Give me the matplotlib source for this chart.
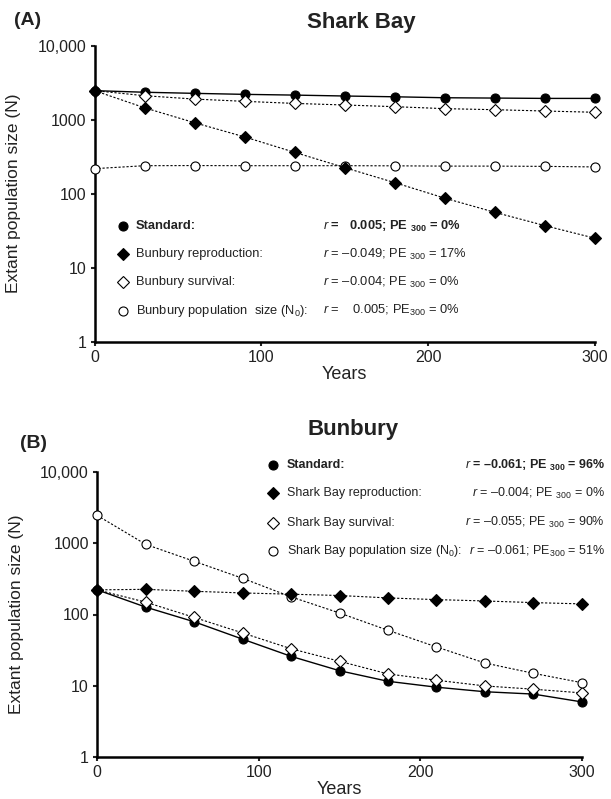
import matplotlib
matplotlib.use("Agg")
import matplotlib.pyplot as plt
from matplotlib.ticker import FixedLocator, FixedFormatter

plt.rcParams['font.family'] = ['Liberation Sans', 'DejaVu Sans']
plt.rcParams['mathtext.fontset'] = 'custom'
plt.rcParams['mathtext.rm'] = 'Liberation Sans'
plt.rcParams['mathtext.it'] = 'Liberation Sans:italic'
plt.rcParams['mathtext.bf'] = 'Liberation Sans:bold'

years = [0, 30, 60, 90, 120, 150, 180, 210, 240, 270, 300]

# panel A - Shark Bay
sb_standard = [2470, 2350, 2270, 2200, 2150, 2090, 2040, 1980, 1960, 1940, 1940]
sb_bun_repro = [2470, 1450, 910, 585, 362, 225, 141, 87, 56, 37, 25]
sb_bun_surv = [2470, 2110, 1900, 1770, 1660, 1580, 1500, 1410, 1365, 1310, 1260]
sb_bun_n0 = [218, 239, 240, 239, 239, 239, 238, 236, 236, 234, 230]

# panel B - Bunbury
bb_standard = [222, 127, 79, 45, 25.8, 16.2, 11.5, 9.5, 8.2, 7.6, 5.9]
bb_sb_repro = [222, 226, 212, 201, 193, 185, 171, 162, 155, 147, 141]
bb_sb_surv = [222, 149, 91, 55, 33, 22, 14.6, 11.9, 9.9, 8.9, 7.9]
bb_sb_n0 = [2470, 968, 560, 323, 177, 105, 60, 35, 20.8, 14.9, 11]

y_ticks = [1, 10, 100, 1000, 10000]
y_labels = ["1", "10", "100", "1000", "10,000"]
x_ticks = [0, 100, 200, 300]

legend_a = [
    ("o", "k", "Standard:", "$r$ =   0.005; PE $_{\\mathbf{300}}$ = 0%", "bold"),
    ("D", "k", "Bunbury reproduction:", "$r$ = \u20130.049; PE $_{300}$ = 17%", "normal"),
    ("D", "w", "Bunbury survival:", "$r$ = \u20130.004; PE $_{300}$ = 0%", "normal"),
    ("o", "w", "Bunbury population  size (N$_0$):", "$r$ =    0.005; PE$_{300}$ = 0%", "normal"),
]
legend_b = [
    ("o", "k", "Standard:", "$r$ = \u20130.061; PE $_{\\mathbf{300}}$ = 96%", "bold"),
    ("D", "k", "Shark Bay reproduction:", "$r$ = \u20130.004; PE $_{300}$ = 0%", "normal"),
    ("D", "w", "Shark Bay survival:", "$r$ = \u20130.055; PE $_{300}$ = 90%", "normal"),
    ("o", "w", "Shark Bay population size (N$_0$):", "$r$ = \u20130.061; PE$_{300}$ = 51%", "normal"),
]


def draw_series(ax, y, marker, face, solid=False):
    ls = "-" if solid else (0, (2, 1.6))
    lw = 1.0 if solid else 0.8
    ax.plot(years, y, color="k", ls=ls, lw=lw, marker=marker,
            markerfacecolor=face, markeredgecolor="k", markeredgewidth=0.8,
            ms=6.5 if marker == "o" else 6, clip_on=False, zorder=3)


def style_axes(ax):
    ax.set_yscale("log")
    ax.set_xlim(0, 300)
    ax.set_ylim(1, 10000)
    ax.yaxis.set_major_locator(FixedLocator(y_ticks))
    ax.yaxis.set_major_formatter(FixedFormatter(y_labels))
    ax.yaxis.set_minor_locator(FixedLocator([]))
    ax.set_xticks(x_ticks)
    for s in ["top", "right"]:
        ax.spines[s].set_visible(False)
    for s in ["left", "bottom"]:
        ax.spines[s].set_linewidth(1.8)
    ax.tick_params(direction="out", length=3, width=1.5, labelsize=11.5,
                   pad=3, colors="#222222")
    ax.set_xlabel("Years", fontsize=13, labelpad=1, color="#222222")
    ax.set_ylabel("Extant population size (N)", fontsize=12.5, labelpad=12,
                  color="#222222")


def draw_legend(ax, rows, mx, tx, rx, ys, size, stat_ha="left"):
    for (m, face, label, stat, weight), yy in zip(rows, ys):
        ax.plot([mx], [yy], marker=m, color="k", markerfacecolor=face,
                markeredgewidth=0.8, ms=6.5 if m == "o" else 6,
                transform=ax.transAxes, clip_on=False)
        ax.text(tx, yy, label, transform=ax.transAxes, fontsize=size,
                fontweight=weight, va="center", ha="left", color="#222222")
        ax.text(rx, yy, stat, transform=ax.transAxes, fontsize=size,
                fontweight=weight, va="center", ha=stat_ha, color="#222222")


fig = plt.figure(figsize=(6.11, 7.99), dpi=100)
W, H = 611, 799
ax_a = fig.add_axes([94.5 / W, 1 - 341.7 / H, (595 - 94.5) / W, (341.7 - 45.7) / H])
ax_b = fig.add_axes([97.3 / W, 1 - 756.7 / H, (581.7 - 97.3) / W, (756.7 - 472.3) / H])

draw_series(ax_a, sb_standard, "o", "k", solid=True)
draw_series(ax_a, sb_bun_surv, "D", "w")
draw_series(ax_a, sb_bun_n0, "o", "w")
draw_series(ax_a, sb_bun_repro, "D", "k")
style_axes(ax_a)
draw_legend(ax_a, legend_a, 0.057, 0.083, 0.456, [0.391, 0.295, 0.201, 0.105], 9.3)
ax_a.text(0.534, 1.078, "Shark Bay", transform=ax_a.transAxes, fontsize=16,
          fontweight="bold", ha="center", va="center", color="#222222")
ax_a.text(-0.16, 1.085, "(A)", transform=ax_a.transAxes, fontsize=14,
          fontweight="bold", ha="left", va="center", color="#222222")

draw_series(ax_b, bb_standard, "o", "k", solid=True)
draw_series(ax_b, bb_sb_surv, "D", "w")
draw_series(ax_b, bb_sb_n0, "o", "w")
draw_series(ax_b, bb_sb_repro, "D", "k")
style_axes(ax_b)
draw_legend(ax_b, legend_b, 0.362, 0.391, (605 - 97.3) / 484.4,
            [1.024, 0.927, 0.823, 0.723], 9.0, stat_ha="right")
ax_b.text(0.527, 1.149, "Bunbury", transform=ax_b.transAxes, fontsize=16,
          fontweight="bold", ha="center", va="center", color="#222222")
ax_b.text(-0.16, 1.103, "(B)", transform=ax_b.transAxes, fontsize=14,
          fontweight="bold", ha="left", va="center", color="#222222")

fig.savefig("out.png", dpi=100)
